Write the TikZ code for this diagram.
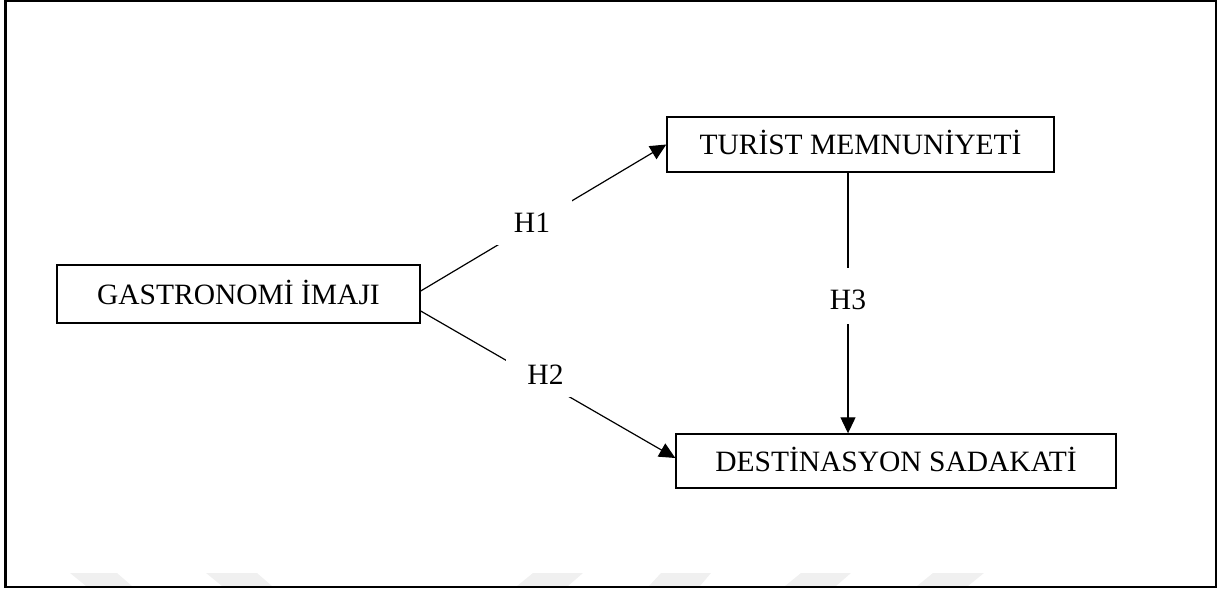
\documentclass[tikz,border=0pt]{standalone}
\usepackage{fontspec}
\setmainfont{Liberation Serif}
\usetikzlibrary{arrows.meta}
\begin{document}
\begin{tikzpicture}[x=1pt,y=-1pt,
  every node/.style={font=\fontsize{29.5pt}{34pt}\selectfont, text height=20pt, text depth=0pt, inner sep=0pt},
  varbox/.style={draw, line width=1.4pt, fill=white},
  link/.style={line width=1.2pt, -{Triangle[length=16pt,width=15pt]}},
  hlabel/.style={fill=white, minimum width=80pt, minimum height=46pt},
  wmark/.style={fill=black!6, draw=none}]
\useasboundingbox (0,0) rectangle (1218,590);
% faint watermark shapes
\fill[wmark] (70,573) -- (117,573) -- (132,586) -- (86,586) -- cycle;
\fill[wmark] (206,573) -- (257,573) -- (272,586) -- (222,586) -- cycle;
\fill[wmark] (533,573) -- (583,573) -- (568,586) -- (517,586) -- cycle;
\fill[wmark] (661,573) -- (711,573) -- (700,586) -- (649,586) -- cycle;
\fill[wmark] (801,573) -- (851,573) -- (836,586) -- (785,586) -- cycle;
\fill[wmark] (933,573) -- (984,573) -- (968,586) -- (917,586) -- cycle;
% frame
\draw[line width=2.2pt] (5.5,1) rectangle (1216,587.3);
% variables
\node[varbox, minimum width=363pt, minimum height=58pt] (g) at (238.5,294) {GASTRONOMİ İMAJI};
\node[varbox, minimum width=387pt, minimum height=55pt] (t) at (860.5,144.5) {TURİST MEMNUNİYETİ};
\node[varbox, minimum width=440pt, minimum height=54pt] (d) at (896,461) {DESTİNASYON SADAKATİ};
% label positions
\coordinate (h3pos) at (848,296);
% connectors
\draw[link] ([yshift=3pt]g.east) -- (t.west);
\draw[link] ([yshift=-17pt]g.east) -- ([yshift=3pt]d.west);
\draw[link] (t.south -| h3pos) -- (d.north -| h3pos);
% labels
\node[hlabel] (h1) at (532,222) {H1};
\node[hlabel] (h2) at (545.5,374) {H2};
\node[fill=white, minimum width=60pt, minimum height=56pt, text height=27pt] (h3) at (h3pos) {H3};
\end{tikzpicture}
\end{document}
